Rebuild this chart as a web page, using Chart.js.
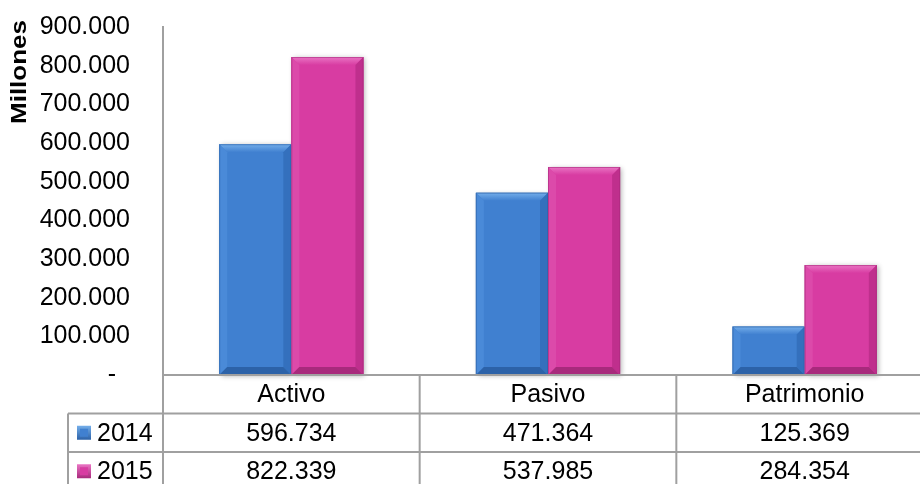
<!DOCTYPE html>
<html>
<head>
<meta charset="utf-8">
<script src="https://cdn.jsdelivr.net/npm/chart.js@4/dist/chart.umd.min.js"></script>
<style>
html,body{margin:0;padding:0;background:#fff;overflow:hidden;}
#wrap{width:920px;height:484px;overflow:hidden;position:relative;}
canvas{display:block;}
</style>
</head>
<body>
<div id="wrap"><canvas id="c" width="933" height="484"></canvas></div>
<script>
// ---- data ----
const categories = ['Activo', 'Pasivo', 'Patrimonio'];
const seriesNames = ['2014', '2015'];
const values2014 = [596734, 471364, 125369];
const values2015 = [822339, 537985, 284354];
const yTicks = [0, 100000, 200000, 300000, 400000, 500000, 600000, 700000, 800000, 900000];
const axisTitle = 'Millones';

const FONT = '"Liberation Sans", Arial, sans-serif';
const FS = 25;
const LINE = '#a0a0a0';
const palette = [
  {main:'#4080d0', light:'#74aeea', side:'#4a8ad8', dark:'#3470bd', darker:'#2c62a8'},
  {main:'#d83ca2', light:'#ea74c4', side:'#dc4aaa', dark:'#bf2f8d', darker:'#a82a7c'}
];

function fmt(v){
  return String(v).replace(/\B(?=(\d{3})+(?!\d))/g, '.');
}

const shadowPlugin = {
  id:'shadow',
  beforeDatasetsDraw(chart){
    const ctx = chart.ctx;
    ctx.save();
    ctx.shadowColor = 'rgba(0,0,0,0.3)';
    ctx.shadowBlur = 5;
    ctx.shadowOffsetX = 2;
    ctx.shadowOffsetY = 1;
    ctx.fillStyle = '#999';
    chart.data.datasets.forEach((ds, di) => {
      chart.getDatasetMeta(di).data.forEach(el => {
        const p = el.getProps(['x','y','base','width'], true);
        ctx.fillRect(p.x - p.width/2, p.y, p.width, p.base - p.y);
      });
    });
    ctx.restore();
  }
};

const bevelPlugin = {
  id:'bevel',
  afterDatasetsDraw(chart){
    const ctx = chart.ctx;
    ctx.save();
    chart.data.datasets.forEach((ds, di) => {
      const col = palette[di];
      chart.getDatasetMeta(di).data.forEach(el => {
        const p = el.getProps(['x','y','base','width'], true);
        const l = p.x - p.width/2, r = p.x + p.width/2, t = p.y, b = p.base;
        const bv = Math.min(8, (b - t)/2, p.width/2);
        const poly = (pts, fill) => {
          ctx.beginPath();
          ctx.moveTo(pts[0][0], pts[0][1]);
          for (let i = 1; i < pts.length; i++) ctx.lineTo(pts[i][0], pts[i][1]);
          ctx.closePath();
          ctx.fillStyle = fill;
          ctx.fill();
        };
        const g = ctx.createLinearGradient(0, t, 0, t + bv);
        g.addColorStop(0, col.light);
        g.addColorStop(1, col.main);
        poly([[l,t],[r,t],[r-bv,t+bv],[l+bv,t+bv]], g);
        poly([[l,t],[l+bv,t+bv],[l+bv,b-bv],[l,b]], col.side);
        poly([[r,t],[r,b],[r-bv,b-bv],[r-bv,t+bv]], col.dark);
        poly([[l,b],[l+bv,b-bv],[r-bv,b-bv],[r,b]], col.darker);
        ctx.strokeStyle = col.darker;
        ctx.globalAlpha = 0.6;
        ctx.lineWidth = 1;
        ctx.strokeRect(l + 0.5, t + 0.5, p.width - 1, b - t - 1);
        ctx.globalAlpha = 1;
      });
    });
    ctx.restore();
  }
};

const tablePlugin = {
  id:'table',
  afterDraw(chart){
    const ctx = chart.ctx;
    const xs = chart.scales.x;
    const area = chart.chartArea;
    const n = categories.length;
    const catW = (xs.getPixelForValue(1) - xs.getPixelForValue(0));
    const rowH = 38.5;
    const y0 = area.bottom;
    const legendLeft = 68;
    ctx.save();
    ctx.strokeStyle = LINE;
    ctx.lineWidth = 2;
    ctx.beginPath();
    ctx.moveTo(area.left, y0); ctx.lineTo(area.right, y0);
    for (let r = 1; r <= 2; r++) {
      ctx.moveTo(legendLeft, y0 + r*rowH); ctx.lineTo(area.right, y0 + r*rowH);
    }
    ctx.moveTo(area.left, area.top); ctx.lineTo(area.left, chart.height);
    for (let i = 0; i < n; i++) {
      const xr = xs.getPixelForValue(i) + catW/2;
      ctx.moveTo(xr, y0); ctx.lineTo(xr, chart.height);
    }
    ctx.moveTo(legendLeft, y0 + rowH); ctx.lineTo(legendLeft, chart.height);
    ctx.stroke();

    ctx.fillStyle = '#000';
    ctx.font = FS + 'px ' + FONT;
    ctx.textBaseline = 'middle';
    ctx.textAlign = 'center';
    categories.forEach((c, i) => {
      const cx = xs.getPixelForValue(i);
      ctx.fillText(c, cx, y0 + rowH*0.5 + 1);
      ctx.fillText(fmt(values2014[i]), cx, y0 + rowH*1.5 + 1);
      ctx.fillText(fmt(values2015[i]), cx, y0 + rowH*2.5 + 1);
    });
    seriesNames.forEach((s, k) => {
      const cy = y0 + rowH*(k + 1.5);
      const col = palette[k];
      const g = ctx.createLinearGradient(0, cy - 7, 0, cy + 7);
      g.addColorStop(0, col.light);
      g.addColorStop(1, col.darker);
      ctx.fillStyle = g;
      ctx.fillRect(77, cy - 7, 14, 14);
      ctx.fillStyle = col.main;
      ctx.fillRect(80, cy - 4, 8, 8);
      ctx.fillStyle = '#000';
      ctx.textAlign = 'left';
      ctx.fillText(s, 97, cy + 1);
    });
    ctx.save();
    ctx.translate(26, 72);
    ctx.rotate(-Math.PI/2);
    ctx.scale(1, 0.85);
    ctx.font = 'bold 26px ' + FONT;
    ctx.textAlign = 'center';
    ctx.textBaseline = 'alphabetic';
    ctx.fillStyle = '#000';
    ctx.fillText(axisTitle, 0, 0);
    ctx.restore();
    ctx.restore();
  }
};

new Chart(document.getElementById('c'), {
  type:'bar',
  data:{
    labels: categories,
    datasets:[
      {label: seriesNames[0], data: values2014, backgroundColor: palette[0].main, borderWidth:0},
      {label: seriesNames[1], data: values2015, backgroundColor: palette[1].main, borderWidth:0}
    ]
  },
  options:{
    responsive:false,
    animation:false,
    devicePixelRatio:1,
    layout:{padding:{top:27, bottom:109, left:0, right:0}},
    datasets:{bar:{categoryPercentage:0.562, barPercentage:1}},
    plugins:{legend:{display:false}, tooltip:{enabled:false}, title:{display:false}},
    scales:{
      x:{display:false, grid:{display:false}},
      y:{
        min:0, max:900000,
        afterBuildTicks(scale){ scale.ticks = yTicks.map(v => ({value:v})); },
        afterFit(scale){ scale.width = 163; scale.paddingTop = 0; scale.paddingBottom = 0; },
        grid:{display:false, drawTicks:false},
        border:{display:true, color:LINE, width:2},
        ticks:{
          padding:33,
          color:'#000',
          font:{family:FONT, size:FS},
          callback:(v) => v === 0 ? '-  ' : fmt(v)
        }
      }
    }
  },
  plugins:[shadowPlugin, bevelPlugin, tablePlugin]
});
</script>
</body>
</html>
